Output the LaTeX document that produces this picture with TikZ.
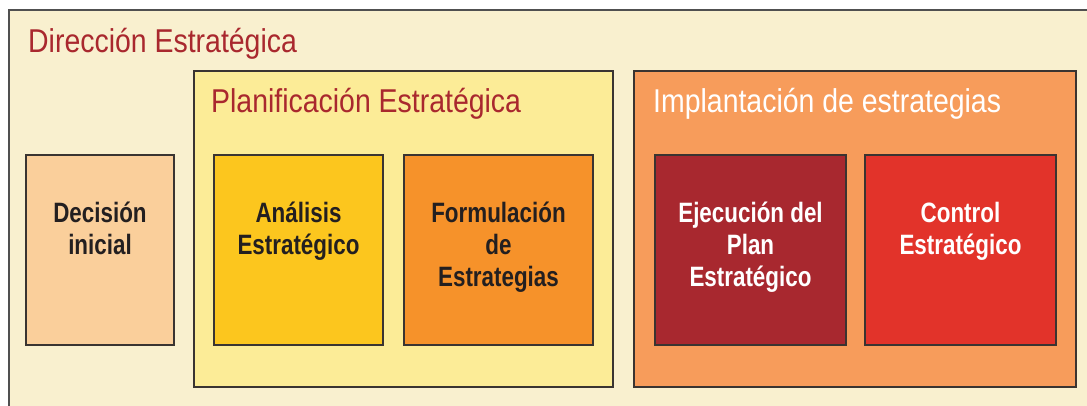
\documentclass[tikz,border=0pt]{standalone}
\usepackage{fontspec}
\newfontfamily\headfont[FakeStretch=0.862]{Liberation Sans}
\newfontfamily\tilefont[FakeStretch=0.8]{Liberation Sans}
\definecolor{cream}{HTML}{F9F0CF}
\definecolor{planbg}{HTML}{FCEC97}
\definecolor{implbg}{HTML}{F79C5B}
\definecolor{peach}{HTML}{FACF9B}
\definecolor{amber}{HTML}{FCC61E}
\definecolor{orangeb}{HTML}{F6922A}
\definecolor{maroon}{HTML}{A8282F}
\definecolor{redb}{HTML}{E2332A}
\definecolor{headred}{HTML}{A9282E}
\definecolor{edge}{HTML}{3A3431}
\definecolor{outeredge}{HTML}{505050}
\definecolor{ink}{HTML}{231F20}
\tikzset{
  tile/.style={draw=edge, line width=1.5pt, rectangle, inner sep=0pt},
  head/.style={inner sep=0pt, anchor=base west, font=\headfont\fontsize{33}{38}\selectfont},
  lbl/.style={inner sep=0pt, anchor=north, align=center, font=\tilefont\bfseries\fontsize{28}{32}\selectfont}
}
\begin{document}
\begin{tikzpicture}[x=1pt,y=-1pt]
\useasboundingbox (0,0) rectangle (1087,405);
\clip (0,0) rectangle (1087,405);
\fill[white] (0,0) rectangle (1087,405);
\draw[fill=cream, draw=outeredge, line width=1.5pt] (9,10) rectangle (1110,420);
\node[head, text=headred] (tdir) at (28,52.5) {Dirección Estratégica};
% group boxes
\node[tile, fill=planbg, minimum width=419pt, minimum height=316pt] (plan) at (403.5,229) {};
\node[tile, fill=implbg, minimum width=442pt, minimum height=316pt] (impl) at (855,229) {};
\node[head, text=headred] (tplan) at (211,112.5) {Planificación Estratégica};
\node[head, text=white] (timpl) at (653,112.5) {Implantación de estrategias};
% tiles
\node[tile, fill=peach, minimum width=148pt, minimum height=190pt] (dec) at (100,250) {};
\node[tile, fill=amber, minimum width=169pt, minimum height=190pt] (ana) at (298.5,250) {};
\node[tile, fill=orangeb, minimum width=189pt, minimum height=190pt] (form) at (498.5,250) {};
\node[tile, fill=maroon, minimum width=191pt, minimum height=190pt] (ejec) at (750.5,250) {};
\node[tile, fill=redb, minimum width=191pt, minimum height=190pt] (ctrl) at (960.5,250) {};
% labels
\node[lbl, text=ink] (tdec) at (100,192) {\rule{0pt}{30pt}Decisión\\inicial};
\node[lbl, text=ink] (tana) at (298.5,192) {\rule{0pt}{30pt}Análisis\\Estratégico};
\node[lbl, text=ink] (tform) at (498.5,192) {\rule{0pt}{30pt}Formulación\\de\\Estrategias};
\node[lbl, text=white] (tejec) at (750.5,192) {\rule{0pt}{30pt}Ejecución del\\Plan\\Estratégico};
\node[lbl, text=white] (tctrl) at (960.5,192) {\rule{0pt}{30pt}Control\\Estratégico};
\end{tikzpicture}
\end{document}
